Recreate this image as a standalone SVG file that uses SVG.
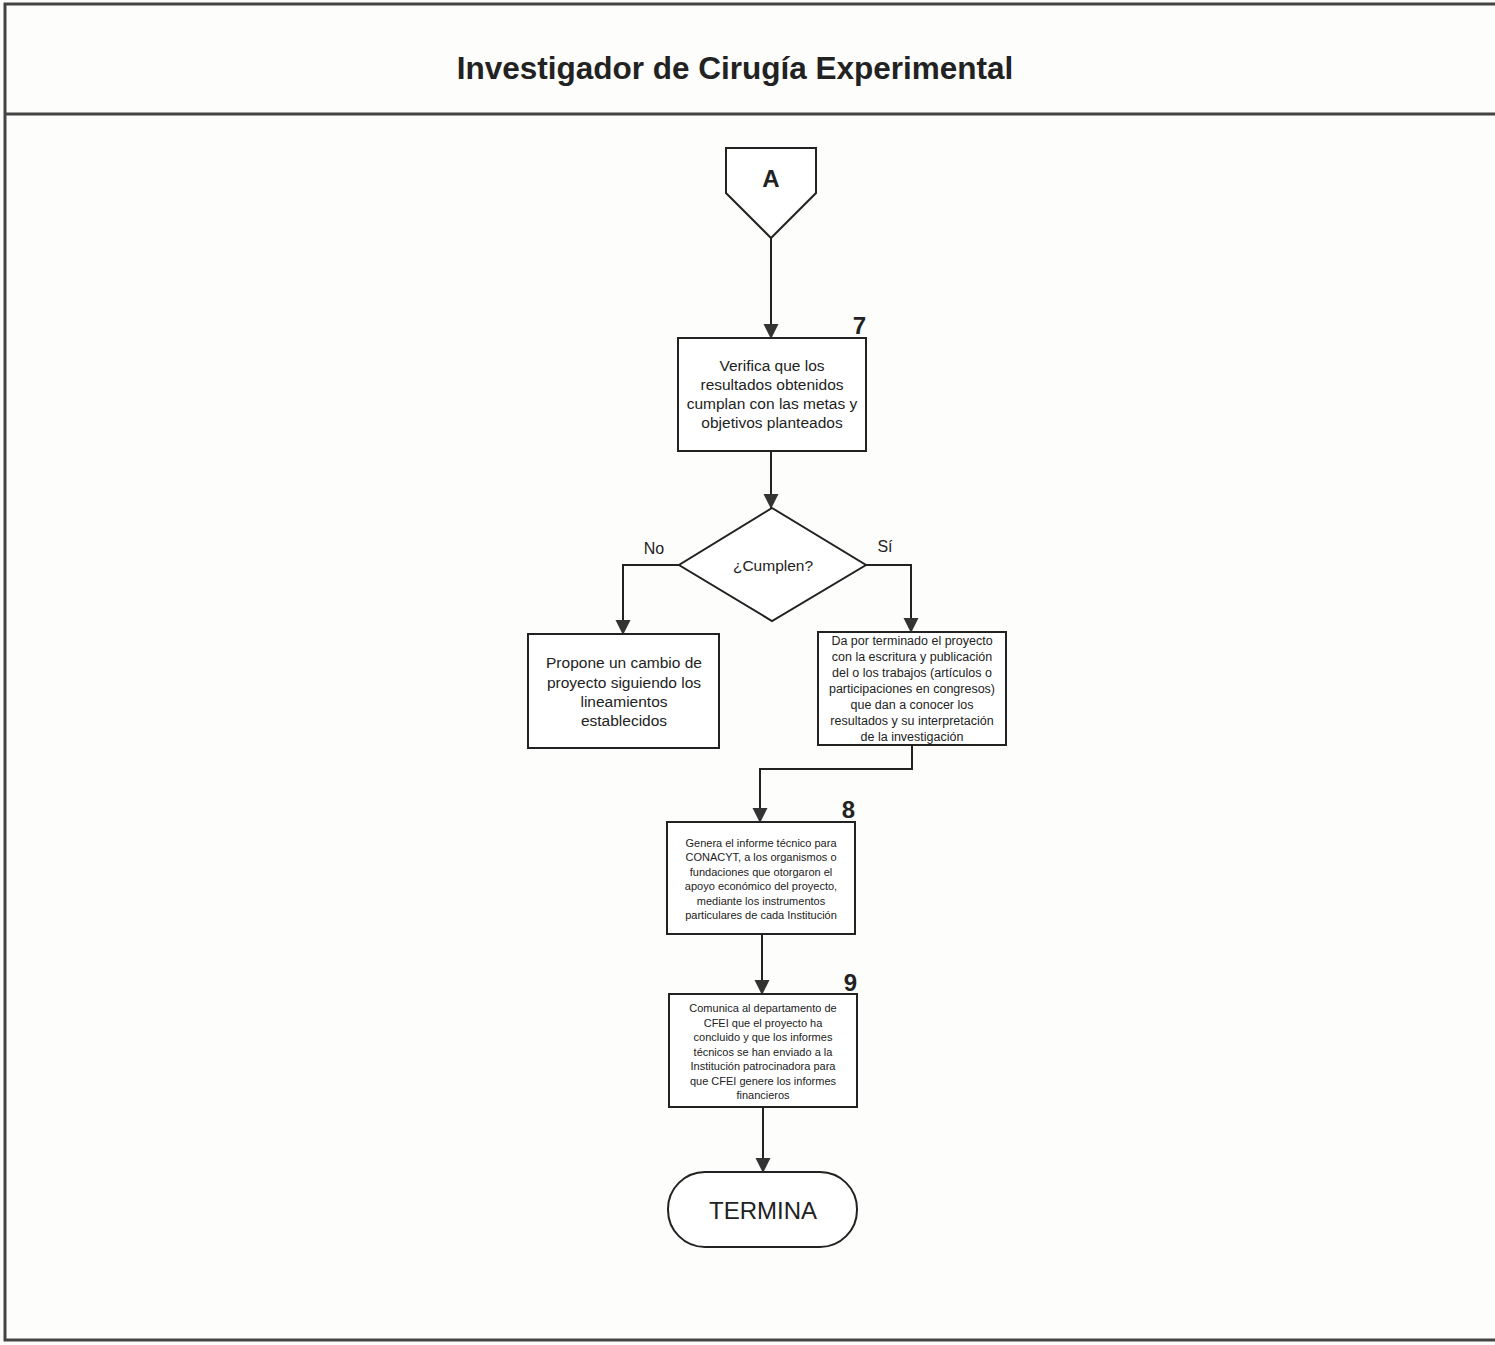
<svg xmlns="http://www.w3.org/2000/svg" width="1495" height="1345" viewBox="0 0 1495 1345">
<defs>
<marker id="arr" markerWidth="16" markerHeight="16" refX="14" refY="7.5" orient="auto" markerUnits="userSpaceOnUse" viewBox="0 0 16 16">
<path d="M0,0 L15,7.5 L0,15 Z" fill="#333"/>
</marker>
<style>
.shape{fill:#fff;stroke:#222;stroke-width:2}
.conn{fill:none;stroke:#222;stroke-width:2}
.t{font-family:"Liberation Sans",Arial,sans-serif;fill:#222;text-anchor:middle}
.num{font-family:"Liberation Sans",Arial,sans-serif;font-weight:bold;font-size:24px;fill:#222;text-anchor:end}
</style>
</defs>
<rect x="0" y="0" width="1495" height="1345" fill="#fdfdfc"/>
<rect x="5" y="4" width="1500" height="1336" fill="none" stroke="#444" stroke-width="3"/>
<line x1="5" y1="114" x2="1495" y2="114" stroke="#444" stroke-width="3"/>
<text x="735" y="79" class="t" font-size="31.5" font-weight="bold" fill="#333">Investigador de Cirugía Experimental</text>

<g id="connectors">
<line class="conn" x1="771" y1="238" x2="771" y2="338" marker-end="url(#arr)"/>
<line class="conn" x1="771" y1="451" x2="771" y2="508" marker-end="url(#arr)"/>
<polyline class="conn" points="679,565 623,565 623,634" marker-end="url(#arr)"/>
<polyline class="conn" points="866,565 911,565 911,632" marker-end="url(#arr)"/>
<polyline class="conn" points="912,745 912,769 760,769 760,822" marker-end="url(#arr)"/>
<line class="conn" x1="762" y1="934" x2="762" y2="994" marker-end="url(#arr)"/>
<line class="conn" x1="763" y1="1107" x2="763" y2="1172" marker-end="url(#arr)"/>
<text x="654" y="554" class="t" font-size="16">No</text>
<text x="885" y="552" class="t" font-size="16">Sí</text>
</g>

<g id="nodeA">
<polygon class="shape" points="726,148 816,148 816,193 771,238 726,193"/>
<text x="771" y="187" class="t" font-size="24" font-weight="bold">A</text>
</g>

<g id="node7">
<rect class="shape" x="678" y="338" width="188" height="113"/>
<text x="866" y="334" class="num">7</text>
<text class="t" font-size="15.5"><tspan x="772" y="371">Verifica que los</tspan><tspan x="772" y="390">resultados obtenidos</tspan><tspan x="772" y="409">cumplan con las metas y</tspan><tspan x="772" y="428">objetivos planteados</tspan></text>
</g>

<g id="decision">
<polygon class="shape" points="772,508 866,565 772,621 679,565"/>
<text x="773" y="571" class="t" font-size="15.5">¿Cumplen?</text>
</g>

<g id="nodeNo">
<rect class="shape" x="528" y="634" width="191" height="114"/>
<text class="t" font-size="15.5"><tspan x="624" y="668">Propone un cambio de</tspan><tspan x="624" y="688">proyecto siguiendo los</tspan><tspan x="624" y="707">lineamientos</tspan><tspan x="624" y="726">establecidos</tspan></text>
</g>

<g id="nodeSi">
<rect class="shape" x="818" y="632" width="188" height="113"/>
<text class="t" font-size="12.5"><tspan x="912" y="645">Da por terminado el proyecto</tspan><tspan x="912" y="661">con la escritura y publicación</tspan><tspan x="912" y="677">del o los trabajos (artículos o</tspan><tspan x="912" y="693">participaciones en congresos)</tspan><tspan x="912" y="709">que dan a conocer los</tspan><tspan x="912" y="725">resultados y su interpretación</tspan><tspan x="912" y="741">de la investigación</tspan></text>
</g>

<g id="node8">
<rect class="shape" x="667" y="822" width="188" height="112"/>
<text x="855" y="818" class="num">8</text>
<text class="t" font-size="11"><tspan x="761" y="847">Genera el informe técnico para</tspan><tspan x="761" y="861">CONACYT, a los organismos o</tspan><tspan x="761" y="876">fundaciones que otorgaron el</tspan><tspan x="761" y="890">apoyo económico del proyecto,</tspan><tspan x="761" y="905">mediante los instrumentos</tspan><tspan x="761" y="919">particulares de cada Institución</tspan></text>
</g>

<g id="node9">
<rect class="shape" x="669" y="994" width="188" height="113"/>
<text x="857" y="991" class="num">9</text>
<text class="t" font-size="11"><tspan x="763" y="1012">Comunica al departamento de</tspan><tspan x="763" y="1027">CFEI que el proyecto ha</tspan><tspan x="763" y="1041">concluido y que los informes</tspan><tspan x="763" y="1056">técnicos se han enviado a la</tspan><tspan x="763" y="1070">Institución patrocinadora para</tspan><tspan x="763" y="1085">que CFEI genere los informes</tspan><tspan x="763" y="1099">financieros</tspan></text>
</g>

<g id="terminal">
<rect class="shape" x="668" y="1172" width="189" height="75" rx="37" ry="37"/>
<text x="763" y="1219" class="t" font-size="24">TERMINA</text>
</g>
</svg>
